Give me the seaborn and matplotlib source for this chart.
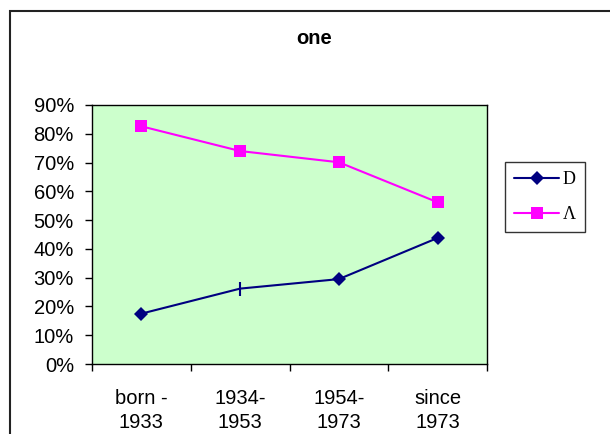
import numpy as np
import pandas as pd
import matplotlib
matplotlib.use("Agg")
import matplotlib.pyplot as plt
import seaborn as sns
from matplotlib.patches import Rectangle

# data
categories = ["born -\n1933", "1934-\n1953", "1954-\n1973", "since\n1973"]
series_d = [0.175, 0.262, 0.295, 0.438]
series_l = [0.826, 0.740, 0.701, 0.562]
names = ["D", "Λ"]

sns.set_style("white")
plt.rcParams['font.family'] = ['Liberation Sans', 'DejaVu Sans']
plt.rcParams['text.color'] = 'black'
plt.rcParams['xtick.color'] = 'black'
plt.rcParams['ytick.color'] = 'black'

df = pd.DataFrame({
    "cat": categories * 2,
    "x": list(range(len(categories))) * 2,
    "val": series_d + series_l,
    "series": [names[0]] * 4 + [names[1]] * 4,
})

fig = plt.figure(figsize=(6.10, 4.34), dpi=100)
ax = fig.add_axes([92 / 610, 1 - 364 / 434, 395 / 610, 259 / 434])
ax.set_facecolor("#ccffcc")

sns.lineplot(data=df, x="x", y="val", hue="series", style="series",
             palette={names[0]: "#000080", names[1]: "#ff00ff"},
             markers={names[0]: "D", names[1]: "s"}, dashes=False,
             markersize=7, linewidth=1.5, markeredgewidth=0, ax=ax, legend=False)
ax.lines[1].set_markersize(8.5)
# second point of the first series shows only a tick mark in the original
ax.lines[0].set_markevery([0, 2, 3])
ax.plot([1], [series_d[1]], marker="|", color="#000080", markersize=10, mew=1.5, ls="none")

ax.set_xlim(-0.5, len(categories) - 0.5)
ax.set_ylim(0, 0.9)
ax.set_yticks(np.arange(0, 0.91, 0.1))
ax.set_yticklabels([f"{int(round(v * 100))}%" for v in np.arange(0, 0.91, 0.1)], fontsize=14.5)
ax.set_xticks(np.arange(-0.5, len(categories), 1.0))
ax.set_xticklabels([""] * (len(categories) + 1))
ax.set_xticks(range(len(categories)), minor=True)
ax.set_xticklabels(categories, minor=True, fontsize=14.5, linespacing=1.3)
ax.tick_params(axis="x", which="minor", length=0, pad=18)
ax.tick_params(axis="both", which="major", direction="out", length=5, width=1, color="black",
               left=True, bottom=True)
ax.tick_params(axis="y", pad=8)
ax.set_xlabel("")
ax.set_ylabel("")
for s in ax.spines.values():
    s.set_color("black")
    s.set_linewidth(1)

# legend box
handles = [plt.Line2D([], [], color="#000080", marker="D", markersize=7, lw=1.5, mew=0),
           plt.Line2D([], [], color="#ff00ff", marker="s", markersize=8, lw=1.5, mew=0)]
leg = fig.legend(handles, names, loc="upper left", bbox_to_anchor=(505 / 610, 1 - 162 / 434),
                 frameon=True, fancybox=False, edgecolor="black", handlelength=2.5,
                 labelspacing=1.0, borderpad=0.5, borderaxespad=0, handletextpad=0.2,
                 prop={"family": "Liberation Serif", "size": 13})
leg.get_frame().set_linewidth(1)

fig.suptitle("one", x=314 / 610, y=1 - 29 / 434, fontsize=14.5, fontweight="bold")

# outer chart border
fig.patches.append(Rectangle((10 / 610, -0.05), 1.1, 1 - 11 / 434 + 0.05, transform=fig.transFigure,
                             fill=False, edgecolor="#222222", lw=1.5, zorder=0))

fig.savefig("out.png", dpi=100)
